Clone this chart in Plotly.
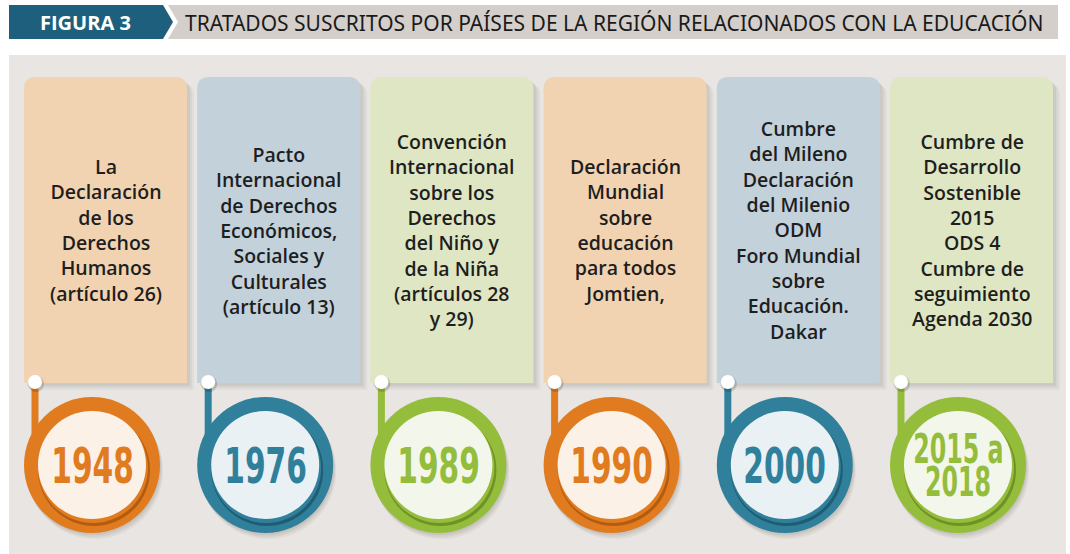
import json
import plotly.graph_objects as go

# ---------------- data ----------------
years = ["1948", "1976", "1989", "1990", "2000", "2015 a<br>2018"]
texts = [
    "La<br>Declaración<br>de los<br>Derechos<br>Humanos<br>(artículo 26)",
    "Pacto<br>Internacional<br>de Derechos<br>Económicos,<br>Sociales y<br>Culturales<br>(artículo 13)",
    "Convención<br>Internacional<br>sobre los<br>Derechos<br>del Niño y<br>de la Niña<br>(artículos 28<br>y 29)",
    "Declaración<br>Mundial<br>sobre<br>educación<br>para todos<br>Jomtien,",
    "Cumbre<br>del Mileno<br>Declaración<br>del Milenio<br>ODM<br>Foro Mundial<br>sobre<br>Educación.<br>Dakar",
    "Cumbre de<br>Desarrollo<br>Sostenible<br>2015<br>ODS 4<br>Cumbre de<br>seguimiento<br>Agenda 2030",
]
themes = ["orange", "blue", "green", "orange", "blue", "green"]
fig_label = "FIGURA 3"
title = "TRATADOS SUSCRITOS POR PAÍSES DE LA REGIÓN RELACIONADOS CON LA EDUCACIÓN"

# ---------------- styles ----------------
palette = {
    "orange": dict(card="#f2d3b1", ring="#e07b20", inner="#fbf1e7", dark="#b35c10"),
    "blue": dict(card="#c3d1db", ring="#30809c", inner="#e9f1f5", dark="#1f5d73"),
    "green": dict(card="#dfe6c4", ring="#95bd3c", inner="#f3f7eb", dark="#6f9225"),
}
W, H = 1070, 554
card_x0, card_step, card_w = 24, 173.2, 163
card_y0, card_y1, radius = 77, 383, 12
circ_cy, r_out, r_in = 465, 68, 54
dot_y, dot_r = 382, 7
year_font = "DejaVu Sans Condensed, DejaVu Sans, sans-serif"

shapes = []
annotations = []
year_idx = []

def rect(x0, y0, x1, y1, color):
    shapes.append(dict(type="rect", xref="x", yref="y", x0=x0, y0=y0, x1=x1, y1=y1,
                       fillcolor=color, line=dict(width=0), layer="above"))

def circle(cx, cy, r, color):
    shapes.append(dict(type="circle", xref="x", yref="y", x0=cx - r, x1=cx + r, y0=cy - r, y1=cy + r,
                       fillcolor=color, line=dict(width=0), layer="above"))

def path(d, color):
    shapes.append(dict(type="path", xref="x", yref="y", path=d, fillcolor=color,
                       line=dict(width=0), layer="above"))

def top_round(x0, y0, x1, y1, r):
    return (f"M {x0},{y1} L {x0},{y0 + r} Q {x0},{y0} {x0 + r},{y0} "
            f"L {x1 - r},{y0} Q {x1},{y0} {x1},{y0 + r} L {x1},{y1} Z")

# header
rect(150, 5, 1058, 39, "#d4cfcb")
path("M 9,5 L 168,5 L 178,22 L 168,39 L 9,39 Z", "#ffffff")
path("M 9,5 L 163,5 L 173,22 L 163,39 L 9,39 Z", "#1e5f7d")
annotations.append(dict(x=85, y=22.5, xref="x", yref="y", text=f"<b>{fig_label}</b>", showarrow=False,
                        font=dict(family="Open Sans", size=20, color="#ffffff"),
                        xanchor="center", yanchor="middle"))
annotations.append(dict(x=183, y=22.5, xref="x", yref="y", text=title, showarrow=False,
                        font=dict(family="Noto Sans", size=21, color="#1a1a1a"),
                        xanchor="left", yanchor="middle"))

# panel
rect(9, 55, 1066, 554, "#e8e5e2")

for i, (yr, tx, th) in enumerate(zip(years, texts, themes)):
    c = palette[th]
    x0 = card_x0 + i * card_step
    x1 = x0 + card_w
    # card shadow
    for k, a in [(7, 0.04), (5, 0.05), (3, 0.07)]:
        path(top_round(x0 + k, card_y0 + k, x1 + k, card_y1 + k, radius), f"rgba(60,50,45,{a})")
    path(top_round(x0, card_y0, x1, card_y1, radius), c["card"])
    annotations.append(dict(x=(x0 + x1) / 2, y=(card_y0 + card_y1) / 2, xref="x", yref="y", text=tx,
                            showarrow=False, align="center", xanchor="center", yanchor="middle",
                            font=dict(family="Open Sans", size=19.5, color="#1e1e1e", weight=600)))
    # connector
    lx = x0 + 11
    rect(lx - 3.5, dot_y, lx + 3.5, 445, c["ring"])
    cx = x0 + r_out
    # circle shadow
    for k, a in [(6, 0.05), (4, 0.07), (2, 0.08)]:
        circle(cx + k * 0.5, circ_cy + k, r_out, f"rgba(60,50,45,{a})")
    circle(cx, circ_cy, r_out, c["ring"])
    # inner shadow
    circle(cx + 2, circ_cy + 5, r_in + 2, c["dark"])
    circle(cx + 1, circ_cy + 3, r_in + 1, c["ring"])
    circle(cx, circ_cy, r_in, c["inner"])
    # dot
    circle(lx + 1, dot_y + 2, dot_r + 1, "rgba(0,0,0,0.15)")
    circle(lx, dot_y, dot_r, "#ffffff")
    # year
    lines = yr.split("<br>")
    if len(lines) == 1:
        year_idx.append(len(annotations))
        annotations.append(dict(x=cx, y=circ_cy + 1, xref="x", yref="y", text=yr, showarrow=False,
                                xanchor="center", yanchor="middle",
                                font=dict(family=year_font, size=50, color=c["ring"], weight="bold")))
    else:
        for j, ln in enumerate(lines):
            year_idx.append(len(annotations))
            annotations.append(dict(x=cx, y=circ_cy - 16 + 33 * j, xref="x", yref="y", text=ln,
                                    showarrow=False, xanchor="center", yanchor="middle",
                                    font=dict(family=year_font, size=40, color=c["ring"], weight="bold")))

fig = go.Figure()
fig.update_layout(
    width=W, height=H, margin=dict(l=0, r=0, t=0, b=0),
    paper_bgcolor="#ffffff", plot_bgcolor="#ffffff",
    xaxis=dict(range=[0, W], visible=False, fixedrange=True),
    yaxis=dict(range=[H, 0], visible=False, fixedrange=True),
    shapes=shapes, annotations=annotations, showlegend=False,
)

post = """
document.body.style.margin = '0px';
var gd = document.getElementById('{plot_id}');
var idx = %s;
function condense() {
  idx.forEach(function (k) {
    var t = gd.querySelector('g.annotation[data-index="' + k + '"] text.annotation-text');
    if (t) {
      t.style.transformBox = 'fill-box';
      t.style.transformOrigin = 'center';
      t.style.transform = 'scaleX(0.66)';
    }
  });
}
condense();
setTimeout(condense, 30);
if (gd.on) { gd.on('plotly_afterplot', condense); }
""" % json.dumps(year_idx)

fig.write_html("out.html", post_script=post, config={"displayModeBar": False})
